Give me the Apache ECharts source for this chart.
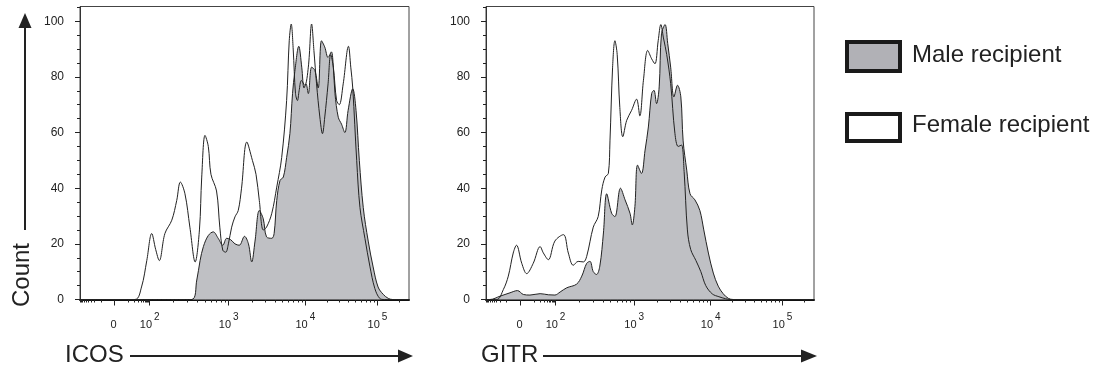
<!DOCTYPE html>
<html><head><meta charset="utf-8">
<script src="https://cdn.jsdelivr.net/npm/echarts@6/dist/echarts.min.js"></script>
<style>html,body{margin:0;padding:0;background:#fff}#c{width:1104px;height:374px}</style>
</head><body><div id="c"></div>
<script>
// x values are display channels (0..1000) of the biexponential FACS scale
const xTickPos = [105, 212, 452, 685, 904];
const xTickBase = ['0', '10', '10', '10', '10'];
const xTickExp = ['', '2', '3', '4', '5'];
const yTicks = [0, 20, 40, 60, 80, 100];
const seriesNames = ['Male recipient', 'Female recipient'];
const axisTitles = ['ICOS', 'GITR'];
const yTitle = 'Count';

const icosMale = [[0,0],[339,0],[355,7],[365,14],[375,19],[390,23],[405,24.3],[420,22],[434,19.5],[446,22],[458,21.5],[471,20],[484,19.5],[500,22.7],[512,20],[522,13.5],[532,21],[545,32],[557,29],[567,22.5],[583,22],[590,23.7],[598,35.6],[608,42.8],[618,44],[628,51],[638,59.6],[646,74],[653,82],[665,91],[674,83.5],[681,76],[687,77.5],[694,74],[704,83.5],[714,82.3],[724,76],[734,93],[744,90.7],[754,87],[764,89],[770,83.5],[775,74],[785,65.5],[795,63],[805,60],[815,68],[829,75.7],[839,68],[849,50],[861,33],[876,21],[891,11.7],[906,4.5],[922,1.8],[937,0.4],[950,0],[1000,0]];
const icosFemale = [[0,0],[167,0],[187,4.5],[203,14],[218,23.7],[230,18],[241,14],[258,23.7],[279,28.5],[294,35.6],[305,42.2],[319,38],[334,26],[350,13.5],[363,25],[370,44],[380,59],[390,55],[398,45],[415,39],[425,26],[434,17.7],[443,17],[451,20],[461,26],[471,29.7],[481,32],[491,40],[507,56.6],[524,50],[535,45],[545,35.6],[557,25],[567,26],[583,31],[598,40.4],[613,51],[628,71.5],[636,93],[642,99],[648,90],[655,74],[661,71.5],[666,75],[673,78.7],[683,77],[694,83.5],[704,99],[711,89.5],[719,77.5],[729,65.6],[737,59.6],[744,65.6],[754,77.5],[762,88],[770,83.5],[780,71.5],[788,70],[800,77.5],[816,91],[823,83.5],[829,76],[841,50],[851,33],[866,22],[881,12],[896,4],[911,0.4],[925,0],[1000,0]];
const gitrMale = [[0,0],[12,0],[43,1.2],[73,2.4],[96,3.2],[114,1.8],[134,1.6],[165,2.1],[190,1.7],[210,1.6],[226,2.7],[246,4.2],[276,5.5],[292,8.4],[307,13],[317,13.7],[327,10],[337,9],[347,12],[358,23.9],[368,38],[383,31],[393,29.8],[410,40],[424,35.8],[439,31],[446,26.8],[454,33.4],[462,48.3],[474,45.3],[485,53.7],[495,62],[505,74],[512,75.2],[520,70.4],[528,76.4],[535,95.5],[546,98.8],[554,92],[563,83.5],[573,72.8],[584,77],[594,72.8],[601,57],[612,46.5],[622,38],[637,35.8],[652,32],[664,25],[678,16.7],[693,9.5],[708,4.8],[723,2.1],[739,0.4],[754,0],[1000,0]];
const gitrFemale = [[0,0],[33,0],[53,3.6],[68,8.4],[83,16.7],[93,19.5],[109,13],[124,9.3],[144,13],[165,19],[175,16.7],[190,14.3],[210,21],[236,23.3],[251,16.7],[266,12.3],[281,13.7],[297,13.5],[307,15.5],[327,26],[342,29.8],[353,39.4],[363,44],[373,45.3],[378,57],[386,83.5],[393,93],[400,88],[408,69],[417,58.5],[429,64.4],[444,68],[459,72],[469,66],[480,78.8],[493,89.5],[505,86.5],[515,84.7],[525,93],[533,98.8],[541,94],[551,88],[563,77.6],[576,59.7],[586,55],[596,55.5],[604,46],[614,25],[624,18],[640,14],[655,10],[670,5],[690,2],[710,1],[730,0.3],[745,0],[1000,0]];

const FONT = 'Liberation Sans, Arial, sans-serif';
const INK = '#222';

// biexponential-like position of a value on the display channel scale
function chanOf(v) {
  const c0 = xTickPos[0], c2 = xTickPos[1];
  if (Math.abs(v) <= 100) return c0 + (c2 - c0) * Math.asinh(v / 5) / Math.asinh(20);
  const k = Math.floor(Math.log10(v) + 1e-9);
  const lo = xTickPos[k - 1];
  const hi = k < xTickPos.length ? xTickPos[k] : xTickPos[k - 1] + (xTickPos[k - 1] - xTickPos[k - 2]);
  return lo + (hi - lo) * Math.log10(v / Math.pow(10, k));
}
const minorVals = [];
for (let m = 1; m <= 9; m++) { minorVals.push(-m * 10, m * 10); }
minorVals.push(-100);
for (let k = 2; k <= 5; k++) for (let m = 2; m <= 9; m++) minorVals.push(m * Math.pow(10, k));
const xMinorPos = minorVals.map(chanOf).filter(p => p > 0 && p < 1000);
const yMinor = [];
for (let v = 5; v <= 105; v += 5) if (v % 20) yMinor.push(v);

const grids = [
  {left: 80, top: 6.5, width: 329, height: 293},
  {left: 486, top: 6.5, width: 328, height: 293}
];
const xAxes = [], yAxes = [];
grids.forEach((g, i) => {
  xAxes.push({
    type: 'value', gridIndex: i, min: 0, max: 1000, position: 'bottom',
    axisLine: {show: true, onZero: false, lineStyle: {color: '#111', width: 2}},
    axisTick: {show: true, length: 6, customValues: xTickPos, lineStyle: {color: INK}},
    axisLabel: {
      show: true, customValues: xTickPos, margin: 13,
      formatter: v => {
        const idx = xTickPos.indexOf(v);
        if (idx < 0) return '';
        return xTickExp[idx] ? '{b|' + xTickBase[idx] + '}{s|' + xTickExp[idx] + '}' : '{b|' + xTickBase[idx] + '}';
      },
      rich: {
        b: {fontSize: 11, fontFamily: FONT, color: INK, verticalAlign: 'bottom', padding: [7, 2, 0, 0]},
        s: {fontSize: 10, fontFamily: FONT, color: INK, verticalAlign: 'top'}
      }
    },
    splitLine: {show: false}
  });
  xAxes.push({
    type: 'value', gridIndex: i, min: 0, max: 1000, position: 'bottom',
    axisLine: {show: false, onZero: false},
    axisTick: {show: true, length: 3, customValues: xMinorPos, lineStyle: {color: INK}},
    axisLabel: {show: false},
    splitLine: {show: false}
  });
  yAxes.push({
    type: 'value', gridIndex: i, min: 0, max: 105.3, position: 'left',
    axisLine: {show: true, lineStyle: {color: '#333', width: 1}},
    axisTick: {show: true, length: 5, customValues: yTicks, lineStyle: {color: INK}},
    axisLabel: {show: true, customValues: yTicks, margin: 16, fontSize: 12, fontFamily: FONT, color: INK},
    splitLine: {show: false}
  });
  yAxes.push({
    type: 'value', gridIndex: i, min: 0, max: 105.3, position: 'left',
    axisLine: {show: false},
    axisTick: {show: true, length: 3, customValues: yMinor, lineStyle: {color: INK}},
    axisLabel: {show: false},
    splitLine: {show: false}
  });
});

function mk(name, data, xi, yi, filled) {
  return {
    name: name, type: 'line', data: data, xAxisIndex: xi, yAxisIndex: yi,
    smooth: 0.35, symbol: 'none', z: filled ? 2 : 3,
    lineStyle: {color: INK, width: 1},
    areaStyle: filled ? {color: '#bfc0c4', opacity: 1} : undefined,
    silent: true
  };
}

const chart = echarts.init(document.getElementById('c'), null, {renderer: 'canvas'});
chart.setOption({
  animation: false,
  backgroundColor: '#fff',
  grid: grids.map(g => Object.assign({show: true, borderColor: '#444', borderWidth: 1, backgroundColor: 'transparent'}, g)),
  xAxis: xAxes,
  yAxis: yAxes,
  series: [
    mk(seriesNames[0], icosMale, 0, 0, true),
    mk(seriesNames[1], icosFemale, 0, 0, false),
    mk(seriesNames[0], gitrMale, 2, 2, true),
    mk(seriesNames[1], gitrFemale, 2, 2, false)
  ],
  graphic: [
    {type: 'text', x: 22, y: 275, rotation: Math.PI / 2, style: {text: yTitle, fontSize: 24, fontFamily: FONT, fill: INK, align: 'center', verticalAlign: 'middle'}},
    {type: 'line', shape: {x1: 25, y1: 230, x2: 25, y2: 26}, style: {stroke: INK, lineWidth: 2}},
    {type: 'polygon', shape: {points: [[18.5, 28], [31.5, 28], [25, 13]]}, style: {fill: INK}},
    {type: 'text', x: 65, y: 355, style: {text: axisTitles[0], fontSize: 24, fontFamily: FONT, fill: INK, align: 'left', verticalAlign: 'middle'}},
    {type: 'line', shape: {x1: 130, y1: 356, x2: 400, y2: 356}, style: {stroke: INK, lineWidth: 2}},
    {type: 'polygon', shape: {points: [[398, 349.5], [398, 362.5], [413, 356]]}, style: {fill: INK}},
    {type: 'text', x: 481, y: 355, style: {text: axisTitles[1], fontSize: 24, fontFamily: FONT, fill: INK, align: 'left', verticalAlign: 'middle'}},
    {type: 'line', shape: {x1: 543, y1: 356, x2: 803, y2: 356}, style: {stroke: INK, lineWidth: 2}},
    {type: 'polygon', shape: {points: [[801, 349.5], [801, 362.5], [817, 356]]}, style: {fill: INK}},
    {type: 'rect', shape: {x: 847, y: 42, width: 53, height: 29}, style: {fill: '#b1b1b6', stroke: '#1a1a1a', lineWidth: 4}},
    {type: 'text', x: 912, y: 55, style: {text: seriesNames[0], fontSize: 24, fontFamily: FONT, fill: INK, align: 'left', verticalAlign: 'middle'}},
    {type: 'rect', shape: {x: 847, y: 114, width: 53, height: 27}, style: {fill: '#fff', stroke: '#1a1a1a', lineWidth: 4}},
    {type: 'text', x: 912, y: 125, style: {text: seriesNames[1], fontSize: 24, fontFamily: FONT, fill: INK, align: 'left', verticalAlign: 'middle'}}
  ]
});
</script>
</body></html>
